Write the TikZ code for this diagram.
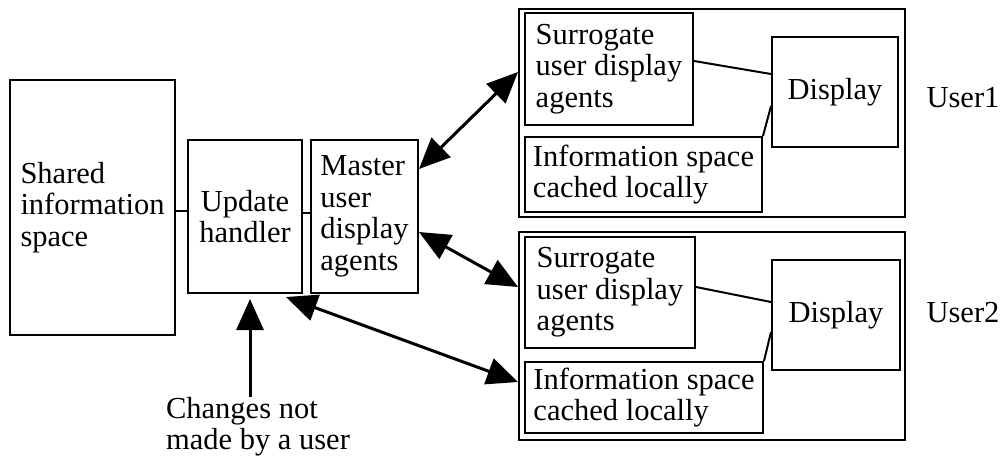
\documentclass[tikz,border=0pt]{standalone}
\usepackage{fontspec}
\setmainfont{Liberation Serif}
\usetikzlibrary{arrows.meta,calc}
\begin{document}
\begin{tikzpicture}[x=1pt,y=-1pt,
  txt/.style={font=\fontsize{30.5}{31.5}\selectfont},
  box/.style={txt, draw, line width=2pt, align=left, inner sep=0pt},
  lbl/.style={txt, align=left, inner sep=0pt},
  conn/.style={line width=2pt},
  arr/.style={line width=3pt, {Triangle[length=31pt,width=27pt]}-{Triangle[length=31pt,width=27pt]}},
  sarr/.style={line width=3pt, -{Triangle[length=31pt,width=27pt]}},
]
\useasboundingbox (0,0) rectangle (1004,459);

% left column
\node[box, minimum width=165pt, minimum height=255pt] (sh) at (92.5,207.5) {Shared\\information\\space};
\node[box, align=center, minimum width=114pt, minimum height=153pt] (upd) at (245,216.5) {Update\\handler};
\node[box, minimum width=107pt, minimum height=153pt] (mast) at (364.5,216.5) {Master\\user\\display\\agents};

% user 1
\node[draw, line width=2pt, minimum width=386pt, minimum height=208pt, inner sep=0pt] (u1) at (712,113) {};
\node[box, minimum width=168pt, minimum height=112pt] (s1) at (609,69) {Surrogate\\user display\\agents};
\node[box, minimum width=237pt, minimum height=75pt] (i1) at (643.5,174.5) {Information space\\cached locally};
\node[box, minimum width=126pt, minimum height=110pt] (d1) at (835,92) {Display};
\node[lbl] (l1) at (963,98) {User1};

% user 2
\node[draw, line width=2pt, minimum width=386pt, minimum height=208pt, inner sep=0pt] (u2) at (712,336) {};
\node[box, minimum width=170pt, minimum height=111pt] (s2) at (610,292.5) {Surrogate\\user display\\agents};
\node[box, minimum width=238pt, minimum height=71pt] (i2) at (644,397.5) {Information space\\cached locally};
\node[box, minimum width=128pt, minimum height=110pt] (d2) at (836,315) {Display};
\node[lbl] (l2) at (963,313) {User2};

% external changes
\node[lbl, anchor=north] (chg) at (258,397) {Changes not\\made by a user};

% plain connectors
\draw[conn] (sh.east |- 0,211) -- (upd.west |- 0,211);
\draw[conn] (upd.east |- 0,213) -- (mast.west |- 0,213);
\draw[conn] ([yshift=-49pt]s1.north east) -- ([yshift=-38pt]d1.north west);
\draw[conn] (i1.north east) -- ([yshift=-70pt]d1.north west);
\draw[conn] ([yshift=-51pt]s2.north east) -- ([yshift=-43pt]d2.north west);
\draw[conn] (i2.north east) -- ([yshift=-73pt]d2.north west);

% arrows
\draw[arr] ([yshift=-30pt]mast.north east) -- ([yshift=-64pt]u1.north west);
\draw[arr] ([yshift=-93pt]mast.north east) -- ([yshift=-56pt]u2.north west);
\draw[arr] ([xshift=-17pt,yshift=-3pt]upd.south east) -- ([yshift=-151pt]u2.north west);
\draw[sarr] ([xshift=-8pt]chg.north) -- ([xshift=5pt,yshift=-5pt]upd.south);
\end{tikzpicture}
\end{document}
